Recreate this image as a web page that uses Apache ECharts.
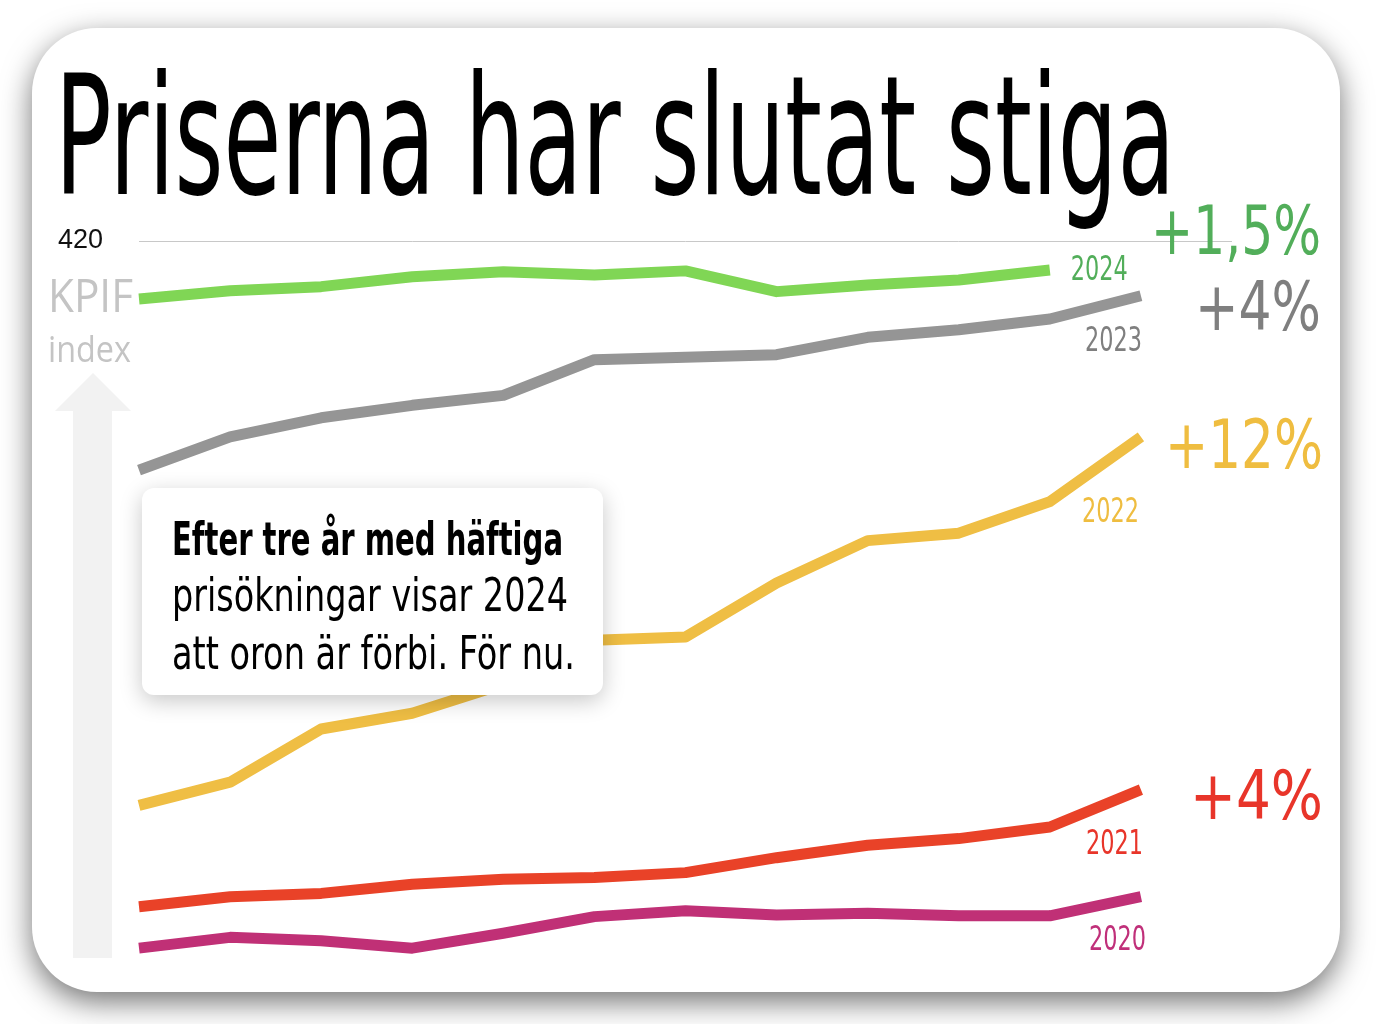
<!DOCTYPE html>
<html>
<head>
<meta charset="utf-8">
<title>Priserna har slutat stiga</title>
<script src="https://cdn.jsdelivr.net/npm/echarts@6/dist/echarts.min.js"></script>
<style>
  html, body { margin: 0; padding: 0; background: #fff; }
  #chart { width: 1392px; height: 1024px; }
</style>
</head>
<body>
<div id="chart"></div>
<script>
// KPIF-index per månad, ett år per linje (läst ur bilden)
var months = ['jan', 'feb', 'mar', 'apr', 'maj', 'jun', 'jul', 'aug', 'sep', 'okt', 'nov', 'dec', ''];
var kpif2020 = [334.8, 336.1, 335.7, 334.8, 336.6, 338.6, 339.3, 338.8, 339.0, 338.7, 338.7, 341.0];
var kpif2021 = [339.8, 341.0, 341.4, 342.5, 343.1, 343.3, 343.9, 345.7, 347.2, 348.0, 349.4, 353.9];
var kpif2022 = [352.0, 354.8, 361.2, 363.1, 366.6, 371.9, 372.3, 378.8, 383.9, 384.8, 388.6, 396.4];
var kpif2023 = [392.4, 396.4, 398.7, 400.2, 401.4, 405.7, 406.0, 406.3, 408.4, 409.3, 410.6, 413.4];
var kpif2024 = [413.0, 414.0, 414.5, 415.7, 416.3, 415.9, 416.4, 413.9, 414.7, 415.3, 416.5];

var years = ['2020', '2021', '2022', '2023', '2024'];
var yMin = 330, yMax = 420, yStep = 30;
var shownTicks = [420];

var lineColors = ['#c03076', '#e94228', '#efbe44', '#959595', '#80d655'];
var textColors = ['#c0307a', '#e8352a', '#efbd40', '#7f7f7f', '#52ae5a'];

var NARROW = "'Liberation Sans Narrow', 'DejaVu Sans Condensed', 'Liberation Sans', sans-serif";
var OPEN = "'Open Sans', sans-serif";

var measureCtx = document.createElement('canvas').getContext('2d');
function fitScale(text, size, weight, family, width) {
  measureCtx.font = weight + ' ' + size + 'px ' + family;
  return width / measureCtx.measureText(text).width;
}

// text som pressas ihop till en given bredd; midY = mitten av versalhöjden
function squeezed(text, left, midY, width, size, weight, color, family, z, shift) {
  var dy = shift === undefined ? 0.09 * size : shift;
  return {
    type: 'text',
    x: left,
    y: midY + dy,
    scaleX: fitScale(text, size, weight, family, width),
    z: z || 50,
    silent: true,
    style: {
      text: text, x: 0, y: 0,
      fontSize: size, fontWeight: weight, fontFamily: family,
      fill: color, align: 'left', verticalAlign: 'middle'
    }
  };
}

var chart = echarts.init(document.getElementById('chart'));

var seriesData = [kpif2020, kpif2021, kpif2022, kpif2023, kpif2024];

var series = seriesData.map(function (data, i) {
  return {
    name: years[i],
    type: 'line',
    data: data,
    showSymbol: false,
    silent: true,
    lineStyle: { color: lineColors[i], width: 11, cap: 'butt', join: 'round' }
  };
});

var graphics = [
  // kortet
  {
    type: 'rect', z: -10, silent: true,
    shape: { x: 32, y: 28, width: 1308, height: 964, r: 65 },
    style: { fill: '#fff', shadowBlur: 30, shadowOffsetY: 10, shadowColor: 'rgba(0,0,0,0.55)' }
  },
  // pilen bakom KPIF
  {
    type: 'polygon', z: -9, silent: true,
    shape: { points: [[55, 411], [93, 373], [131, 411], [112, 411], [112, 958], [73, 958], [73, 411]] },
    style: { fill: '#f2f2f2' }
  },
  squeezed('Priserna har slutat stiga', 55, 136, 1120, 165, 'normal', '#000', NARROW, 50),
  squeezed('KPIF', 48, 299, 85, 46, 'normal', '#c4c4c4', OPEN, 50, 0),
  squeezed('index', 48, 352, 83, 36, 'normal', '#c4c4c4', OPEN, 50, 0),
  squeezed('+1,5%', 1151, 230, 170, 68, 'normal', textColors[4], NARROW, 50),
  squeezed('+4%', 1195, 306, 126, 68, 'normal', textColors[3], NARROW, 50),
  squeezed('+12%', 1165, 444, 158, 68, 'normal', textColors[2], NARROW, 50),
  squeezed('+4%', 1190, 795, 133, 68, 'normal', textColors[1], NARROW, 50),
  // ruta med kommentar
  {
    type: 'rect', z: 100, silent: true,
    shape: { x: 142, y: 488, width: 461, height: 207, r: 12 },
    style: { fill: '#fff', shadowBlur: 22, shadowOffsetY: 6, shadowColor: 'rgba(0,0,0,0.22)' }
  },
  squeezed('Efter tre år med häftiga', 172, 539, 391, 46, 'bold', '#000', NARROW, 101),
  squeezed('prisökningar visar 2024', 172, 595, 396, 47, 'normal', '#000', NARROW, 101),
  squeezed('att oron är förbi. För nu.', 172, 653, 403, 47, 'normal', '#000', NARROW, 101)
];

var splitColors = [];
for (var v = yMin; v <= yMax; v += yStep) {
  splitColors.push(shownTicks.indexOf(v) >= 0 ? '#c8c8c8' : 'rgba(0,0,0,0)');
}

var option = {
  animation: false,
  backgroundColor: '#fff',
  grid: { left: 139, right: 160, top: 241, bottom: 36, containLabel: false, outerBoundsMode: 'none' },
  xAxis: {
    type: 'category',
    data: months,
    boundaryGap: false,
    show: false
  },
  yAxis: {
    type: 'value',
    min: yMin,
    max: yMax,
    interval: yStep,
    axisLine: { show: false },
    axisTick: { show: false },
    axisLabel: {
      margin: 36,
      color: '#111',
      fontSize: 27,
      fontFamily: "'Liberation Sans', Arial, sans-serif",
      padding: [5, 0, 0, 0],
      formatter: function (val) { return shownTicks.indexOf(val) >= 0 ? String(val) : ''; }
    },
    splitLine: { show: true, lineStyle: { color: splitColors, width: 1 } }
  },
  graphic: graphics,
  series: series
};

chart.setOption(option);

// årtal vid varje linjes slut, placerade via diagrammets egen skala
var yearOffsets = [[5, 41], [2, 52], [-2, 73], [1, 43], [21, -2]];
seriesData.forEach(function (data, i) {
  var end = chart.convertToPixel({ gridIndex: 0 }, [data.length - 1, data[data.length - 1]]);
  var off = yearOffsets[i];
  var w = 57;
  var left = i === 4 ? end[0] + off[0] : end[0] + off[0] - w;
  graphics.push(squeezed(years[i], left, end[1] + off[1], w, 34, 'normal', textColors[i], NARROW, 60));
});
chart.setOption({ graphic: graphics });
</script>
</body>
</html>
